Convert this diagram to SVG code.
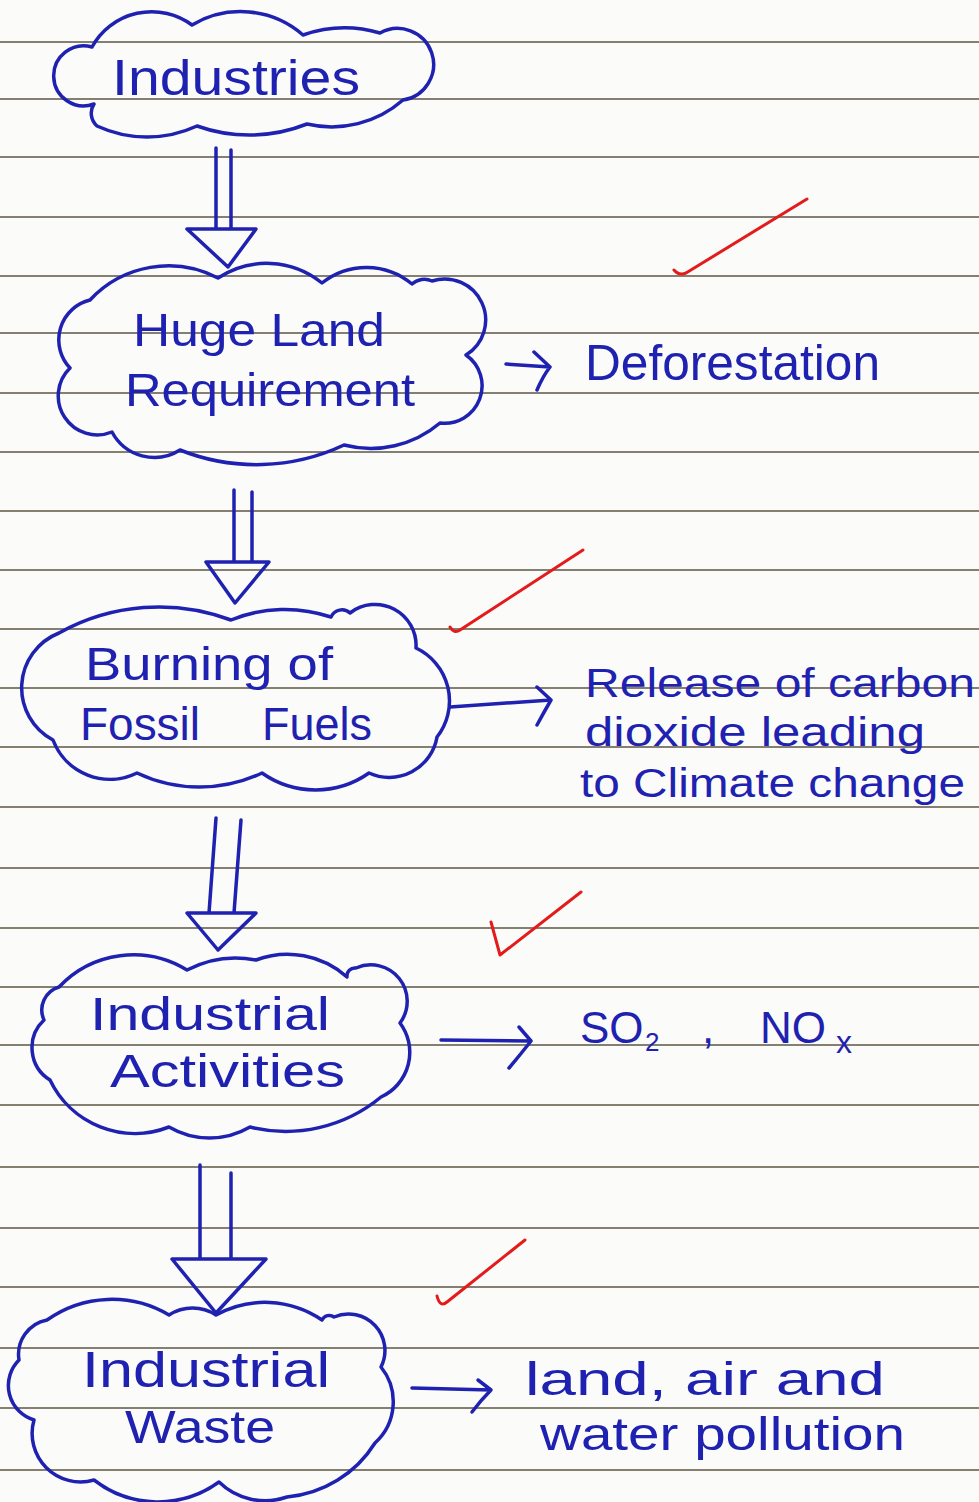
<svg xmlns="http://www.w3.org/2000/svg" width="979" height="1502" viewBox="0 0 979 1502">
<style>
.ink{fill:none;stroke:#1f22b0;stroke-width:3.5;stroke-linecap:round;stroke-linejoin:round}
.t{fill:#1f22b0;font-family:"Liberation Sans",Arial,sans-serif;font-size:46px}
.s{font-size:40px}
.rule{stroke:#857f72;stroke-width:2}
.tick{fill:none;stroke:#e31b1b;stroke-width:3;stroke-linecap:round;stroke-linejoin:round}
</style>
<rect width="979" height="1502" fill="#fbfbf9"/>
<g id="ruled-paper">
<line class="rule" x1="0" y1="42" x2="979" y2="42"/>
<line class="rule" x1="0" y1="99" x2="979" y2="99"/>
<line class="rule" x1="0" y1="157" x2="979" y2="157"/>
<line class="rule" x1="0" y1="217" x2="979" y2="217"/>
<line class="rule" x1="0" y1="276" x2="979" y2="276"/>
<line class="rule" x1="0" y1="333" x2="979" y2="333"/>
<line class="rule" x1="0" y1="393" x2="979" y2="393"/>
<line class="rule" x1="0" y1="452" x2="979" y2="452"/>
<line class="rule" x1="0" y1="511" x2="979" y2="511"/>
<line class="rule" x1="0" y1="570" x2="979" y2="570"/>
<line class="rule" x1="0" y1="629" x2="979" y2="629"/>
<line class="rule" x1="0" y1="688" x2="979" y2="688"/>
<line class="rule" x1="0" y1="747" x2="979" y2="747"/>
<line class="rule" x1="0" y1="807" x2="979" y2="807"/>
<line class="rule" x1="0" y1="868" x2="979" y2="868"/>
<line class="rule" x1="0" y1="928" x2="979" y2="928"/>
<line class="rule" x1="0" y1="987" x2="979" y2="987"/>
<line class="rule" x1="0" y1="1045" x2="979" y2="1045"/>
<line class="rule" x1="0" y1="1105" x2="979" y2="1105"/>
<line class="rule" x1="0" y1="1167" x2="979" y2="1167"/>
<line class="rule" x1="0" y1="1228" x2="979" y2="1228"/>
<line class="rule" x1="0" y1="1287" x2="979" y2="1287"/>
<line class="rule" x1="0" y1="1348" x2="979" y2="1348"/>
<line class="rule" x1="0" y1="1408" x2="979" y2="1408"/>
<line class="rule" x1="0" y1="1470" x2="979" y2="1470"/>
</g>

<g id="node-industries">
<path class="ink" d="M92,47 A68,68 0 0 1 192,25 A95,95 0 0 1 303,35 A126,126 0 0 1 380,33 A36,36 0 1 1 403,100 A108,108 0 0 1 307,124 A156,156 0 0 1 197,126 A119,119 0 0 1 97,126 A17,17 0 0 1 94,104 A30,30 0 1 1 92,47"/>
<text class="t" x="112" y="95" textLength="248" lengthAdjust="spacingAndGlyphs" style="font-size:50px">Industries</text>
</g>

<g id="node-land">
<path class="ink" d="M90,300 A107,107 0 0 1 218,278 A88,88 0 0 1 322,283 A71,71 0 0 1 412,284 A18,18 0 0 1 432,281 A41,41 0 0 1 466,355 A37.5,37.5 0 0 1 440,423 A107,107 0 0 1 344,445 A206,206 0 0 1 180,450 A48,48 0 0 1 112,432 A39,39 0 0 1 70,368 A41,41 0 0 1 90,300"/>
<text class="t" x="133" y="346" textLength="252" lengthAdjust="spacingAndGlyphs">Huge Land</text>
<text class="t" x="125" y="406" textLength="290" lengthAdjust="spacingAndGlyphs">Requirement</text>
</g>

<g id="node-deforestation">
<text class="t" x="585" y="380" textLength="295" lengthAdjust="spacingAndGlyphs" style="font-size:50px">Deforestation</text>
</g>

<g id="node-burning">
<path class="ink" d="M59,633 A205,205 0 0 1 231,620 A143,143 0 0 1 331,617 A12,12 0 0 1 350,613 A41,41 0 0 1 416,648 A58.5,58.5 0 0 1 437,737 A48.5,48.5 0 0 1 369,773 A93,93 0 0 1 262,773 A146,146 0 0 1 137,773 A61,61 0 0 1 53,740 A59,59 0 0 1 59,633"/>
<text class="t" x="85" y="680" textLength="248" lengthAdjust="spacingAndGlyphs">Burning of</text>
<text class="t" y="740"><tspan x="80" textLength="120" lengthAdjust="spacingAndGlyphs">Fossil</tspan> <tspan x="262" textLength="110" lengthAdjust="spacingAndGlyphs">Fuels</tspan></text>
</g>

<g id="node-co2">
<text class="t s" x="585" y="697" textLength="390" lengthAdjust="spacingAndGlyphs">Release of carbon</text>
<text class="t s" x="585" y="746" textLength="340" lengthAdjust="spacingAndGlyphs">dioxide leading</text>
<text class="t s" x="580" y="797" textLength="385" lengthAdjust="spacingAndGlyphs">to Climate change</text>
</g>

<g id="node-activities">
<path class="ink" d="M59,987 A102,102 0 0 1 187,970 A105,105 0 0 1 256,960 A89,89 0 0 1 347,977 A8,8 0 0 1 356,968 A36.4,36.4 0 0 1 400,1023 A49,49 0 0 1 381,1097 A149,149 0 0 1 250,1127 A80,80 0 0 1 169,1127 A94,94 0 0 1 50,1080 A38,38 0 0 1 44,1020 A24,24 0 0 1 59,987"/>
<text class="t" x="90" y="1030" textLength="240" lengthAdjust="spacingAndGlyphs">Industrial</text>
<text class="t" x="110" y="1087" textLength="235" lengthAdjust="spacingAndGlyphs">Activities</text>
</g>

<g id="node-gases">
<text class="t" y="1043" style="font-size:44px"><tspan x="580">SO</tspan><tspan x="645" dy="8" style="font-size:26px">2</tspan><tspan x="702" dy="-8">,</tspan><tspan x="760">NO</tspan><tspan x="836" dy="10" style="font-size:32px">x</tspan></text>
</g>

<g id="node-waste">
<path class="ink" d="M47,1320 A112,112 0 0 1 169,1315 A43,43 0 0 1 216,1315 A101,101 0 0 1 322,1320 A8,8 0 0 1 334,1317 A36.5,36.5 0 0 1 381,1367 A55.6,55.6 0 0 1 375,1443 A116,116 0 0 1 287,1497 A66,66 0 0 1 219,1482 A104,104 0 0 1 94,1480 A48.5,48.5 0 0 1 34,1420 A36,36 0 0 1 19,1360 A35,35 0 0 1 47,1320"/>
<text class="t" x="82" y="1387" textLength="248" lengthAdjust="spacingAndGlyphs" style="font-size:50px">Industrial</text>
<text class="t" x="125" y="1443" textLength="150" lengthAdjust="spacingAndGlyphs">Waste</text>
</g>

<g id="node-pollution">
<text class="t" x="525" y="1395" textLength="360" lengthAdjust="spacingAndGlyphs">land, air and</text>
<text class="t" x="540" y="1450" textLength="365" lengthAdjust="spacingAndGlyphs">water pollution</text>
</g>

<g id="connectors">
<path class="ink" d="M216,148 V229 M231,150 V229 M187,229 H256 L228,267 Z"/>
<path class="ink" d="M234,490 V562 M252,492 V562 M206,562 H269 L235,603 Z"/>
<path class="ink" d="M216,818 L209,913 M241,820 L234,913 M187,913 H256 L218,950 Z"/>
<path class="ink" d="M200,1165 V1259 M231,1173 V1259 M172,1259 H266 L216,1313 Z"/>
<path class="ink" d="M506,364 L550,367 M534,352 L550,367 Q543,376 537,390"/>
<path class="ink" d="M450,707 L551,700 M537,687 L551,700 Q544,712 537,725"/>
<path class="ink" d="M441,1040 L531,1041 M519,1027 L531,1041 Q520,1055 509,1068"/>
<path class="ink" d="M412,1388 L491,1390 M478,1380 L491,1390 Q481,1400 472,1412"/>
</g>

<g id="check-marks">
<path class="tick" d="M674,270 Q679,276 686,273 L807,199"/>
<path class="tick" d="M450,627 Q454,634 460,630 L583,550"/>
<path class="tick" d="M491,922 L500,955 L581,892"/>
<path class="tick" d="M437,1296 Q440,1308 447,1302 L525,1240"/>
</g>
</svg>
